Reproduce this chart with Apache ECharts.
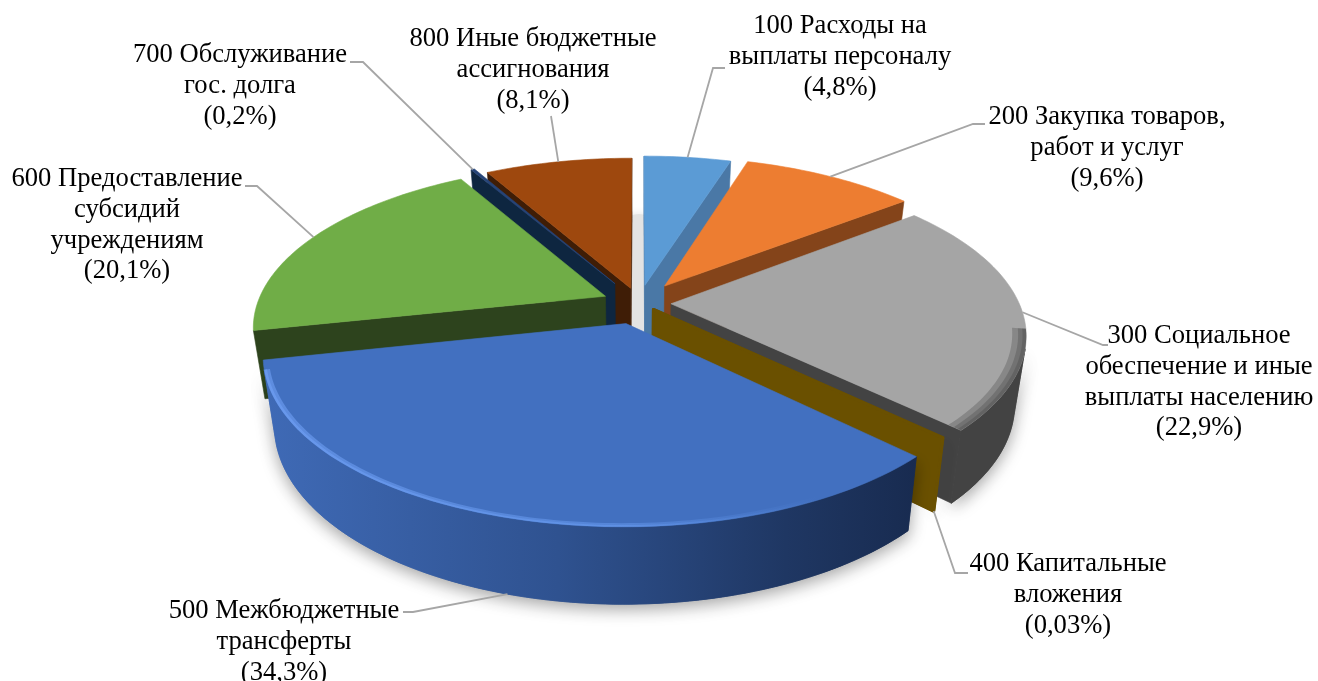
<!DOCTYPE html>
<html>
<head>
<meta charset="utf-8">
<style>html,body{margin:0;padding:0;background:#fff}#main{width:1318px;height:681px}</style>
<script src="https://cdn.jsdelivr.net/npm/echarts@6/dist/echarts.min.js"></script>
</head>
<body>
<div id="main"></div>
<script>
// данные диаграммы
var categories = [
  '100 Расходы на\nвыплаты персоналу',
  '200 Закупка товаров,\nработ и услуг',
  '300 Социальное\nобеспечение и иные\nвыплаты населению',
  '400 Капитальные\nвложения',
  '500 Межбюджетные\nтрансферты',
  '600 Предоставление\nсубсидий\nучреждениям',
  '700 Обслуживание\nгос. долга',
  '800 Иные бюджетные\nассигнования'
];
var values = [4.8, 9.6, 22.9, 0.03, 34.3, 20.1, 0.2, 8.1];

// оформление
var topColors = ['#5b9bd5', '#ed7d31', '#a5a5a5', '#ffc000', '#4270c0', '#70ad47', '#264478', '#9e480e'];
var cutColors = ['#4a78a6', '#84441a', '#434343', '#6a5000', '#1a2d52', '#2d431d', '#0e2640', '#3f1d06'];
var wallColors = [
  '#4a78a6', '#84441a', '#434343', '#6a5000',
  { type: 'linear', x: 0, y: 0, x2: 1, y2: 0, colorStops: [
    { offset: 0, color: '#3f6ab6' }, { offset: 0.45, color: '#2f5290' },
    { offset: 0.8, color: '#1f3763' }, { offset: 1, color: '#182b50' }
  ] },
  '#2d431d', '#0e2640', '#3f1d06'
];
var blueRim = { type: 'linear', x: 0, y: 0, x2: 1, y2: 0, colorStops: [
  { offset: 0, color: 'rgba(112,160,245,0.6)' }, { offset: 0.55, color: 'rgba(104,155,240,0.5)' },
  { offset: 0.85, color: 'rgba(96,148,234,0)' }, { offset: 1, color: 'rgba(96,148,234,0)' }
] };
// кромка на верхней грани: цвет, внутренние радиусы полос, сдвиг углов от видимой стенки
var rims = {
  2: { color: 'rgba(67,67,67,0.3)', inner: [0.99, 0.978, 0.962], before: 0.12, after: 0 },
  4: { color: blueRim, inner: [0.993, 0.985], before: 0, after: 0 },
  5: { color: 'rgba(150,225,95,0.55)', inner: [0.994, 0.987], before: 0, after: 0.3 }
};
var explode = [40, 46, 32, 20, 46, 37, 50, 34];
var drawOrder = [7, 6, 0, 5, 1, 2, 3, 4];

// подписи: центр текста, верхняя строка, излом выноски, конец выноски
var labelBoxes = [
  { x: 840, y: 26, knee: [713, 68], end: [725, 68] },
  { x: 1107, y: 117, knee: [973, 124], end: [985, 124] },
  { x: 1199, y: 336, knee: [1103, 345], end: [1108, 345] },
  { x: 1068, y: 564, knee: [955, 573], end: [968, 573], low: true },
  { x: 284, y: 611, knee: [413, 612], end: [403, 612], low: true },
  { x: 127, y: 179, knee: [257, 186], end: [245, 186] },
  { x: 240, y: 55, knee: [363, 62], end: [350, 62] },
  { x: 533, y: 39, knee: [551, 116], end: [551, 116] }
];

var cx = 639, cy = 303, R = 348, K = 0.455, P = 0.18, H = 67, F = 0.97;

var total = values.reduce(function (a, b) { return a + b; }, 0);
var starts = [], ends = [];
values.reduce(function (acc, v, i) {
  starts[i] = acc / total * Math.PI * 2;
  ends[i] = (acc + v) / total * Math.PI * 2;
  return acc + v;
}, 0);

function project(i, a, r, low) {
  var mid = (starts[i] + ends[i]) / 2;
  var wx = explode[i] * Math.sin(mid) + r * R * Math.sin(a);
  var wy = -explode[i] * Math.cos(mid) - r * R * Math.cos(a);
  var s = 1 / (1 - P * wy / R);
  var f = low ? F : 1;
  return [cx + wx * s * f, cy + wy * K * s * f + (low ? H * s : 0)];
}

function arc(i, r, low, a0, a1) {
  var from = a0 === undefined ? starts[i] : a0;
  var to = a1 === undefined ? ends[i] : a1;
  var n = Math.max(2, Math.ceil((to - from) / 0.02));
  var pts = [];
  for (var k = 0; k <= n; k++) pts.push(project(i, from + (to - from) * k / n, r, low));
  return pts;
}

function area(pts) {
  var sum = 0;
  for (var k = 0; k < pts.length; k++) {
    var p = pts[k], q = pts[(k + 1) % pts.length];
    sum += p[0] * q[1] - q[0] * p[1];
  }
  return sum / 2;
}

function poly(points, fill, extra) {
  var style = { fill: fill, stroke: fill, lineWidth: 0.6, lineJoin: 'round' };
  for (var key in extra) style[key] = extra[key];
  return { type: 'polygon', shape: { points: points }, style: style };
}

function renderSlice(params, api) {
  var i = api.value(0);
  var children = [];
  var apexT = project(i, 0, 0, false), apexB = project(i, 0, 0, true);

  // видимая часть внешней стенки
  var first = null, last = null, step = 0.01;
  for (var a = starts[i]; a < ends[i]; a += step) {
    var b = Math.min(a + step, ends[i]);
    var q = [project(i, a, 1, false), project(i, b, 1, false), project(i, b, 1, true), project(i, a, 1, true)];
    if (area(q) < 0) {
      if (first === null) first = a;
      last = b;
    }
  }
  var wall = null;
  if (first !== null) {
    wall = arc(i, 1, false, first, last).concat(arc(i, 1, true, first, last).reverse());
    // сначала стенка с тенью, чтобы тень легла под срез
    children.push(poly(wall, wallColors[i], {
      shadowBlur: 16, shadowColor: 'rgba(0,0,0,0.35)', shadowOffsetY: 5
    }));
  }

  // срезы, только видимые
  [starts[i], ends[i]].forEach(function (a, idx) {
    var oT = project(i, a, 1, false), oB = project(i, a, 1, true);
    var quad = [apexT, oT, oB, apexB];
    var front = idx === 0 ? area(quad) < 0 : area(quad) > 0;
    if (front || i === 3) {
      children.push(poly(quad, cutColors[i], i === 3 ? { lineWidth: 3 } : null));
    }
  });
  if (wall) children.push(poly(wall, wallColors[i]));

  // верх
  if (i !== 3) {
    children.push(poly([apexT].concat(arc(i, 1, false)), topColors[i]));
  }

  // кромка полосами внутри верхней грани
  var rim = rims[i];
  if (rim && first !== null) {
    var from = Math.max(first - rim.before, starts[i]);
    var to = Math.min(last + rim.after, ends[i]);
    rim.inner.forEach(function (r) {
      children.push({
        type: 'polygon',
        shape: { points: arc(i, 1, false, from, to).concat(arc(i, r, false, from, to).reverse()) },
        style: { fill: rim.color }
      });
    });
  }
  return { type: 'group', children: children };
}

function renderLabel(params, api) {
  var i = api.value(0);
  var box = labelBoxes[i];
  var mid = (starts[i] + ends[i]) / 2;
  var start = project(i, mid, 1, !!box.low);
  var pct = '(' + String(values[i]).replace('.', ',') + '%)';
  return {
    type: 'group',
    children: [
      {
        type: 'polyline',
        shape: { points: [start, box.knee, box.end] },
        style: { fill: null, stroke: '#a6a6a6', lineWidth: 1.8 }
      },
      {
        type: 'text',
        style: {
          x: box.x, y: box.y - 15,
          text: categories[i] + '\n' + pct,
          textAlign: 'center', textVerticalAlign: 'top',
          font: '26.6px "Liberation Serif"',
          lineHeight: 30.7,
          fill: '#000'
        }
      }
    ]
  };
}

var chart = echarts.init(document.getElementById('main'), null, { width: 1318, height: 681 });
chart.setOption({
  backgroundColor: '#fff',
  animation: false,
  // тень в зазоре между секторами
  graphic: [{
    type: 'ellipse', z: 0,
    shape: { cx: 639, cy: 292, rx: 40, ry: 78 },
    style: { fill: '#e3e3e3', shadowBlur: 8, shadowColor: '#e3e3e3' }
  }],
  series: [
    {
      type: 'custom',
      coordinateSystem: 'none',
      renderItem: renderSlice,
      silent: true,
      z: 2,
      data: drawOrder.map(function (i) { return [i]; })
    },
    {
      type: 'custom',
      coordinateSystem: 'none',
      renderItem: renderLabel,
      silent: true,
      z: 3,
      data: categories.map(function (c, i) { return [i]; })
    }
  ]
});
</script>
</body>
</html>
